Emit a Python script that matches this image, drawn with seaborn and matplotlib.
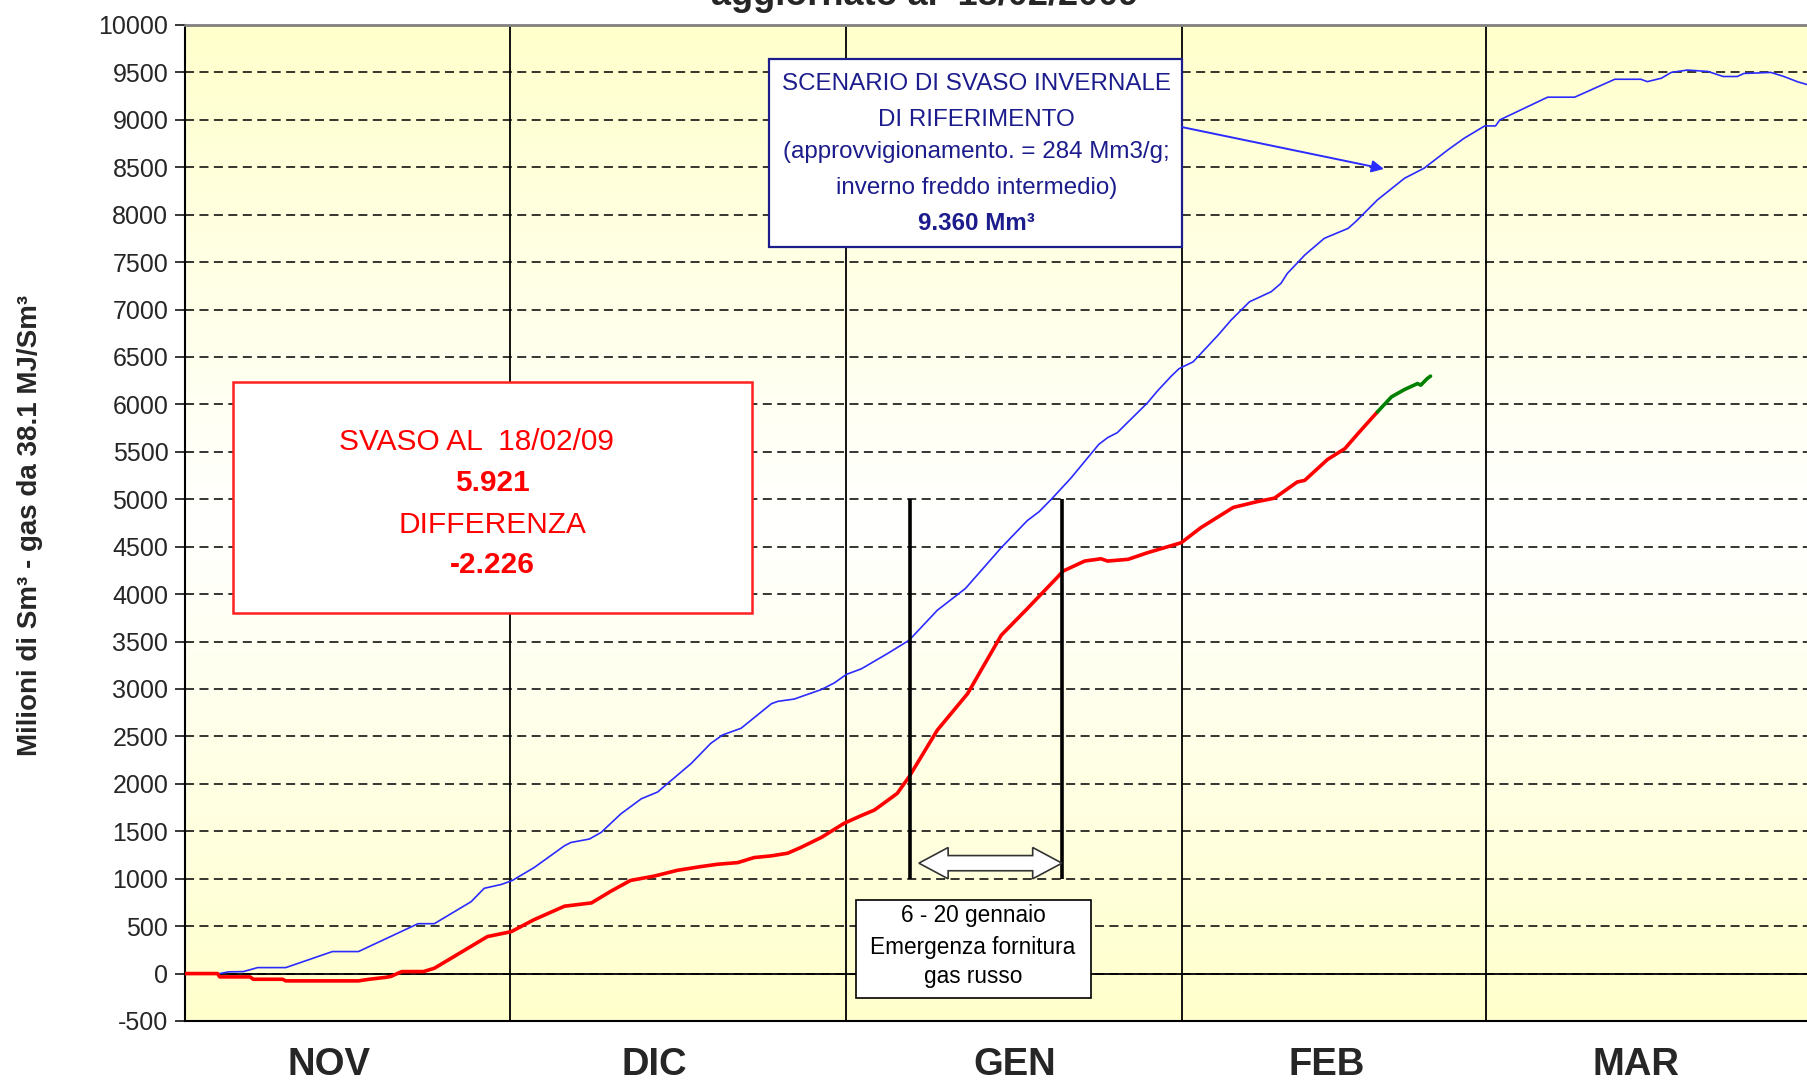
import matplotlib
matplotlib.use('Agg')
import matplotlib.pyplot as plt
import matplotlib.patches as mpatches
import numpy as np
import pandas as pd
import seaborn as sns

# x = giorni dal 1 novembre 2008, y = milioni di Sm3 svasati
blue_days = [3.2, 4.0, 5.4, 6.7, 9.3, 13.6, 16.0, 21.5, 23.0, 26.4, 27.6, 29.2, 30.2, 32.2,
             35.0, 35.6, 37.3, 38.4, 40.2, 42.1, 43.6, 44.5, 46.7, 48.5, 49.6, 51.3, 54.1,
             54.7, 56.2, 58.7, 59.9, 61.0, 62.4, 64.8, 66.8, 69.4, 72.0, 75.3, 77.7, 78.8,
             80.0, 81.7, 84.3, 85.1, 86.0, 88.8, 89.7, 91.0, 91.7, 93.0, 95.3, 96.5, 98.2,
             100.2, 101.1, 101.7, 103.3, 105.1, 107.3, 108.0, 110.0, 112.5, 114.3, 116.5,
             118.0, 119.9, 120.9, 121.3, 125.7, 128.2, 131.9, 134.3, 134.9, 136.2, 137.1,
             138.6, 140.5, 141.9, 143.2, 143.8, 146.3, 147.5, 148.8, 150.0]
blue_vals = [0, 18, 21, 63, 63, 232, 232, 526, 526, 758, 899, 940, 982, 1117,
             1347, 1382, 1418, 1489, 1683, 1843, 1914, 2002, 2215, 2427, 2516, 2586, 2845,
             2870, 2894, 2994, 3064, 3153, 3213, 3373, 3514, 3830, 4060, 4490, 4775, 4870,
             5010, 5220, 5579, 5649, 5702, 6018, 6141, 6300, 6377, 6449, 6730, 6889, 7082,
             7188, 7276, 7382, 7575, 7751, 7856, 7927, 8156, 8384, 8490, 8683,
             8806, 8936, 8936, 9000, 9239, 9239, 9428, 9428, 9403, 9439, 9500,
             9525, 9510, 9457, 9457, 9489, 9500, 9457, 9400, 9360]

red_days = [0.0, 3.0, 3.2, 6.0, 6.3, 9.0, 9.3, 16.0, 17.0, 18.5, 19.0, 20.0, 22.0, 23.0,
            27.9, 30.1, 32.2, 35.0, 37.5, 39.3, 41.1, 43.3, 45.4, 47.6, 49.1, 51.0, 52.5,
            54.1, 55.6, 56.8, 58.7, 60.8, 62.4, 63.6, 65.7, 66.8, 69.4, 72.2, 75.3, 77.7,
            80.5, 81.0, 83.0, 84.5, 85.1, 87.0, 88.8, 91.9, 93.7, 96.7, 98.9, 100.5, 102.6,
            103.3, 105.4, 107.0, 108.2, 110.0]
red_vals = [0, 0, -35, -35, -60, -60, -77, -77, -60, -40, -30, 21, 21, 56,
            390, 442, 568, 710, 745, 869, 982, 1028, 1088, 1128, 1152, 1170, 1223,
            1241, 1269, 1329, 1435, 1584, 1666, 1724, 1899, 2075, 2566, 2952, 3567, 3847,
            4181, 4243, 4349, 4373, 4349, 4367, 4437, 4542, 4700, 4914, 4975, 5012, 5182,
            5200, 5420, 5534, 5692, 5921]

green_days = [110.0, 111.3, 112.5, 113.7, 114.0, 114.6, 114.9]
green_vals = [5921, 6080, 6157, 6220, 6203, 6273, 6298]

months = ['NOV', 'DIC', 'GEN', 'FEB', 'MAR']
month_label_days = [13.3, 43.3, 76.5, 105.3, 133.9]
month_starts = [30, 61, 92, 120]
yticks = list(range(-500, 10001, 500))
emergency_days = [66.9, 80.9]

BLUE = '#2b2bff'
NAVY = '#1c1c8c'


def main():
    sns.set_style('white')
    plt.rcParams['font.family'] = ['Liberation Sans', 'DejaVu Sans']

    fig = plt.figure(figsize=(18.07, 10.85), dpi=100)
    ax = fig.add_axes([185 / 1807, 1 - 1021 / 1085, 151 * 10.84 / 1807, 996 / 1085])

    # sfondo giallo-bianco-giallo
    t = np.linspace(0, 1, 256)
    w = np.abs(2 * t - 1)[:, None]
    yellow = np.array([1.0, 1.0, 0.80])
    white = np.array([1.0, 1.0, 1.0])
    grad = white + (yellow - white) * w[..., None]
    grad = np.repeat(grad, 2, axis=1)
    ax.imshow(grad, extent=[0, 1, 0, 1], transform=ax.transAxes, aspect='auto',
              origin='lower', zorder=0)

    ax.set_axisbelow(True)
    ax.yaxis.grid(True, linestyle=(0, (5, 3)), color='black', linewidth=1.3, alpha=0.85)
    ax.xaxis.grid(False)
    ax.axhline(0, color='black', linewidth=1.3, zorder=1)
    for d in month_starts:
        ax.axvline(d, color='black', linewidth=1.3, zorder=1)

    blue = pd.DataFrame({'day': blue_days, 'val': blue_vals})
    red = pd.DataFrame({'day': red_days, 'val': red_vals})
    green = pd.DataFrame({'day': green_days, 'val': green_vals})
    sns.lineplot(data=blue, x='day', y='val', color=BLUE, linewidth=1.2, estimator=None, ax=ax, zorder=3)
    sns.lineplot(data=red, x='day', y='val', color='#ff0000', linewidth=2.6, estimator=None, ax=ax, zorder=3)
    sns.lineplot(data=green, x='day', y='val', color='#008000', linewidth=2.6, estimator=None, ax=ax, zorder=3)

    # crisi gas russo 6-20 gennaio
    ax.vlines(emergency_days, 1000, 5000, color='black', linewidth=2.6, zorder=4)
    xl, xr, yc = 67.7, emergency_days[1], 1164
    hh, sh, hl = 165, 80, 2.7
    arrow = [(xl, yc), (xl + hl, yc + hh), (xl + hl, yc + sh), (xr - hl, yc + sh), (xr - hl, yc + hh),
             (xr, yc), (xr - hl, yc - hh), (xr - hl, yc - sh), (xl + hl, yc - sh), (xl + hl, yc - hh)]
    ax.add_patch(mpatches.Polygon(arrow, closed=True, facecolor='white', edgecolor='#333333',
                                  linewidth=1.2, zorder=5))

    ax.add_patch(mpatches.Rectangle((61.9, -253), 21.7, 1032, facecolor='white', edgecolor='black',
                                    linewidth=1.2, zorder=6))
    for y, s in zip([548, 205, -100], ['6 - 20 gennaio', 'Emergenza fornitura', 'gas russo']):
        ax.text(72.7, y, s, ha='center', va='baseline', fontsize=16.3, color='black', zorder=7)

    # box rosso
    ax.add_patch(mpatches.Rectangle((4.4, 3804), 47.9, 2428, facecolor='white', edgecolor='#ff2020',
                                    linewidth=1.8, zorder=6))
    red_lines = [('SVASO AL  18/02/09', 'normal', 5519, 26.9), ('5.921', 'bold', 5087, 28.4),
                 ('DIFFERENZA', 'normal', 4645, 28.4), ('-2.226', 'bold', 4223, 28.4)]
    for s, wgt, y, x in red_lines:
        ax.text(x, y, s, ha='center', va='baseline', fontsize=21.5, color='#ff0000',
                fontweight=wgt, zorder=7)

    # box blu
    ax.add_patch(mpatches.Rectangle((53.9, 7657), 38.1, 1980, facecolor='white', edgecolor=NAVY,
                                    linewidth=1.6, zorder=6))
    blue_lines = [('SCENARIO DI SVASO INVERNALE', 'normal', 9318), ('DI RIFERIMENTO', 'normal', 8938),
                  ('(approvvigionamento. = 284 Mm3/g;', 'normal', 8594),
                  ('inverno freddo intermedio)', 'normal', 8218), ('9.360 Mm³', 'bold', 7836)]
    for s, wgt, y in blue_lines:
        ax.text(73.0, y, s, ha='center', va='baseline', fontsize=17.4, color=NAVY,
                fontweight=wgt, zorder=7)
    ax.annotate('', xy=(110.6, 8483), xytext=(92.0, 8923), zorder=7,
                arrowprops=dict(arrowstyle='-|>', color=BLUE, lw=1.4, mutation_scale=18,
                                shrinkA=0, shrinkB=0))

    ax.set_xlim(0, 151)
    ax.set_ylim(-500, 10000)
    ax.set_yticks(yticks)
    ax.set_yticklabels([str(v) for v in yticks], fontsize=18)
    ax.set_xticks(month_label_days)
    ax.set_xticklabels(months, fontsize=27.5, fontweight='bold')
    ax.tick_params(axis='x', length=0, pad=19)
    ax.tick_params(axis='y', direction='out', length=7, width=1.3, pad=5, left=True)
    ax.set_xlabel('')
    ax.set_ylabel('')

    for side in ['left', 'bottom']:
        ax.spines[side].set_color('black')
        ax.spines[side].set_linewidth(1.5)
    ax.spines['top'].set_color('#808080')
    ax.spines['top'].set_linewidth(2)
    ax.spines['right'].set_visible(False)

    fig.text(30 / 1807, 1 - 525 / 1085, 'Milioni di Sm³ - gas da 38.1 MJ/Sm³', rotation=90,
             ha='center', va='center', fontsize=20, fontweight='bold')
    fig.text(925 / 1807, 1 - 5 / 1085, 'aggiornato al  18/02/2009', ha='center', va='baseline',
             fontsize=26, fontweight='bold')

    fig.savefig('out.png', dpi=100)


if __name__ == '__main__':
    main()
